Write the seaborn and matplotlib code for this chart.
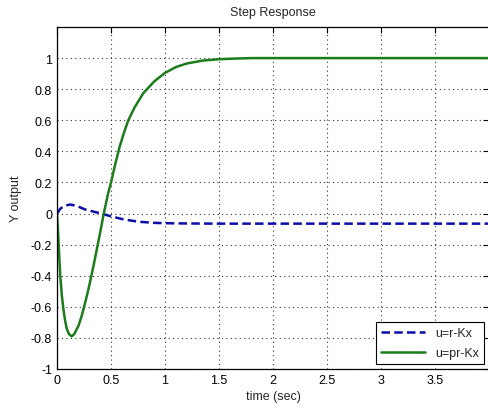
import numpy as np
import pandas as pd
import matplotlib
matplotlib.use('Agg')
import matplotlib.pyplot as plt
import seaborn as sns

# values
t_blue = [0.0, 0.03, 0.06, 0.12, 0.18, 0.26, 0.34, 0.41, 0.5, 0.6, 0.7, 0.78, 0.9, 1.0, 1.2, 1.5, 2.0, 3.0, 4.0]
y_blue = [0.0, 0.03, 0.047, 0.058, 0.05, 0.026, 0.012, 0.0, -0.018, -0.035, -0.047, -0.054, -0.06, -0.062, -0.064, -0.065, -0.065, -0.065, -0.065]

t_green = [0.0, 0.01, 0.02, 0.03, 0.045, 0.06, 0.075, 0.09, 0.11, 0.136, 0.16, 0.2, 0.23, 0.26, 0.29, 0.32, 0.35,
           0.38, 0.41, 0.43, 0.47, 0.5, 0.54, 0.58, 0.62, 0.66, 0.72, 0.8, 0.9, 1.0, 1.1, 1.2, 1.35, 1.5, 1.65,
           1.8, 2.0, 3.0, 4.0]
y_green = [0.0, -0.12, -0.27, -0.40, -0.53, -0.62, -0.69, -0.74, -0.775, -0.79, -0.775, -0.72, -0.655, -0.575, -0.49,
           -0.395, -0.295, -0.19, -0.085, -0.01, 0.12, 0.2, 0.32, 0.43, 0.52, 0.6, 0.685, 0.775, 0.85, 0.905, 0.942,
           0.965, 0.984, 0.993, 0.997, 1.0, 1.0, 1.0, 1.0]

labels = ['u=r-Kx', 'u=pr-Kx']

df = pd.concat([
    pd.DataFrame({'time': t_blue, 'y': y_blue, 'input': labels[0]}),
    pd.DataFrame({'time': t_green, 'y': y_green, 'input': labels[1]}),
])

sns.set_style('white')
plt.rcParams['font.family'] = ['Liberation Sans', 'DejaVu Sans']

fig = plt.figure(figsize=(4.89, 4.10), dpi=100)
ax = fig.add_axes([0.1166, 0.0976, 0.8834, 0.8341])

sns.lineplot(data=df, x='time', y='y', hue='input', style='input',
             palette=['#0c0ca8', '#1c7c1c'], dashes=[(3.4, 1.7), ''],
             linewidth=1.8, sort=False, ax=ax)

ax.set_xlim(0, 4)
ax.set_ylim(-1, 1.2)
ax.set_xticks(np.arange(0, 4.0, 0.5))
ax.set_xticklabels(['0', '0.5', '1', '1.5', '2', '2.5', '3', '3.5'])
ax.set_yticks(np.arange(-1, 1.01, 0.2))
ax.set_yticklabels(['-1', '-0.8', '-0.6', '-0.4', '-0.2', '0', '0.2', '0.4', '0.6', '0.8', '1'])
ax.grid(True, linestyle=(0, (1, 3)), color='#333333', linewidth=0.8)
ax.tick_params(direction='in', length=4, labelsize=9, top=True, right=True, colors='black')
for s in ax.spines.values():
    s.set_color('black')
    s.set_linewidth(0.9)

ax.set_title('Step Response', fontsize=9, pad=9)
ax.set_xlabel('time (sec)', fontsize=9, labelpad=3)
ax.set_ylabel('Y output', fontsize=9, labelpad=6)

leg = ax.legend(title=None, loc='lower right', fontsize=9, frameon=True, fancybox=False,
                framealpha=1, edgecolor='black', handlelength=3.5, borderaxespad=0.4,
                labelspacing=0.6)
leg.get_frame().set_linewidth(0.8)

fig.savefig('out.png', dpi=100)
